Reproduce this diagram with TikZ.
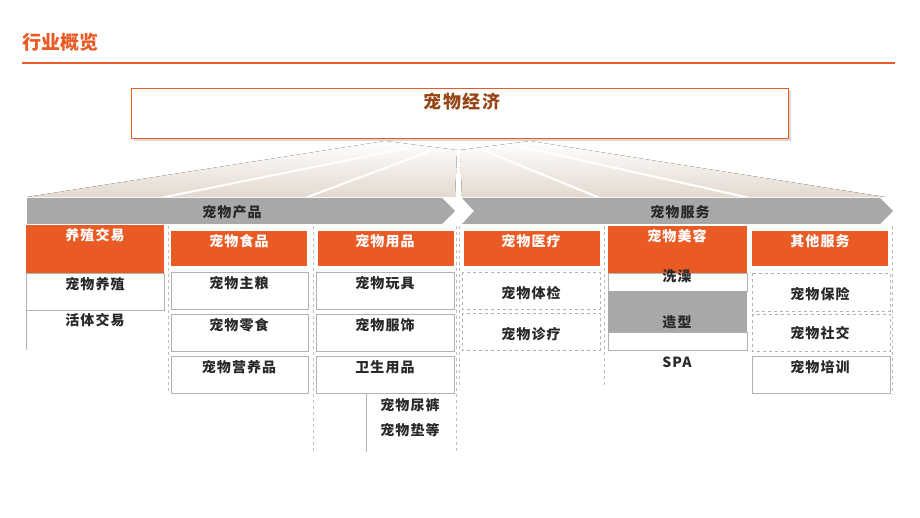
\documentclass[tikz,border=0pt]{standalone}
\usepackage{fontspec}
\setmainfont{Noto Sans CJK SC}
\newfontfamily\widecjk[LetterSpace=8]{Noto Sans CJK SC}
\usetikzlibrary{positioning, calc, shadows}
\definecolor{accent}{RGB}{234,90,36}
\definecolor{heading}{RGB}{150,70,20}
\definecolor{band}{RGB}{168,168,168}
\definecolor{ink}{RGB}{40,40,40}

\begin{document}
\begin{tikzpicture}[
    x=1pt, y=-1pt,
    hdr/.style={draw=none, fill=accent},
    item/.style={draw=gray!60, thin},
    ditem/.style={draw=gray!60, thin, dashed},
    lbl/.style={font=\widecjk\bfseries\fontsize{14}{16}\selectfont, text=ink, inner sep=0pt},
    wlbl/.style={font=\widecjk\bfseries\fontsize{14}{16}\selectfont, text=white, inner sep=0pt},
    guide/.style={draw=gray!50, thin, dashed},
    fan/.style={top color=white, bottom color=gray!45!brown!30, draw=none}
]
\useasboundingbox (0,0) rectangle (920,518);

% Title
\node[font=\bfseries\fontsize{19}{21}\selectfont, text=accent, anchor=west, inner sep=0pt] (title) at (22,42) {行业概览};
\draw[accent, line width=1.2pt] (22,63) -- (895,63);

% Top box
\node[draw=accent, line width=1.2pt, fill=white, drop shadow={opacity=0.3}, minimum width=657pt, minimum height=50pt, anchor=north west] (economy) at (131,88) {};
\node[font=\widecjk\bfseries\fontsize{18}{20}\selectfont, text=heading, inner sep=0pt] (economytext) at (462,102) {宠物经济};

% Fans
\fill[fan] (27,197) -- (385,141) -- (457,150) -- (455,197) -- cycle;
\draw[white, line width=2pt] (160,198) -- (408,148);
\draw[white, line width=2pt] (305,198) -- (430,151);
\fill[fan] (460,150) -- (530,141) -- (885,197) -- (462,197) -- cycle;
\draw[white, line width=2pt] (600,198) -- (485,151);
\draw[white, line width=2pt] (750,198) -- (522,147);

% Chevron bands
\fill[band] (27,198) -- (442,198) -- (455,211) -- (442,224) -- (27,224) -- cycle;
\fill[band] (462,198) -- (880,198) -- (893,211) -- (880,224) -- (462,224) -- (474,211) -- cycle;
\node[lbl] (products) at (232,212) {宠物产品};
\node[lbl] (services) at (680,212) {宠物服务};

% Guides
\draw[guide] (168,226) -- (168,392);
\draw[guide] (313,226) -- (313,452);
\draw[guide] (456,226) -- (456,452);
\draw[guide] (459,226) -- (459,385);
\draw[guide] (604,226) -- (604,385);
\draw[guide] (892,226) -- (892,395);

% Column 1
\fill[hdr] (26,225) rectangle (164,273);
\node[wlbl] (breeding) at (95,235) {养殖交易};
\draw[item] (26,273) rectangle (164,310);
\node[lbl] (breed) at (95,284) {宠物养殖};
\draw[item] (26,310) -- (26,350);
\node[lbl] (live) at (95,320) {活体交易};

% Column 2
\fill[hdr] (171,231) rectangle (307,266);
\node[wlbl] (food) at (239,241) {宠物食品};
\foreach \y/\t/\n in {272/宠物主粮/staple, 314/宠物零食/snack, 356/宠物营养品/nutrition}{
  \draw[item] (171,\y) rectangle (308,\y+37);
  \node[lbl] (\n) at (239,\y+11) {\t};
}

% Column 3
\fill[hdr] (318,231) rectangle (454,266);
\node[wlbl] (supplies) at (385,241) {宠物用品};
\foreach \y/\t/\n in {272/宠物玩具/toys, 314/宠物服饰/clothes, 356/卫生用品/hygiene}{
  \draw[item] (316,\y) rectangle (454,\y+37);
  \node[lbl] (\n) at (385,\y+11) {\t};
}
\draw[item] (366,393) -- (366,452);
\node[lbl] (diaper) at (410,405) {宠物尿裤};
\node[lbl] (pad) at (410,430) {宠物垫等};

% Column 4
\fill[hdr] (464,231) rectangle (600,266);
\node[wlbl] (medical) at (531,241) {宠物医疗};
\foreach \y/\t/\n in {272/宠物体检/checkup, 313/宠物诊疗/clinic}{
  \draw[ditem] (462,\y) rectangle (600,\y+37);
  \node[lbl] (\n) at (531,\y+21) {\t};
}

% Column 5
\fill[hdr] (608,226) rectangle (747,273);
\node[wlbl] (grooming) at (677,236) {宠物美容};
\draw[item] (608,273) rectangle (747,291);
\node[lbl] (bath) at (677,276) {洗澡};
\fill[band] (608,291) rectangle (747,332);
\node[lbl] (styling) at (677,322) {造型};
\draw[item] (608,332) rectangle (747,350);
\node[lbl] (spa) at (677,362) {SPA};

% Column 6
\fill[hdr] (752,231) rectangle (888,266);
\node[wlbl] (other) at (820,241) {其他服务};
\draw[ditem] (752,273) rectangle (890,311);
\node[lbl] (insurance) at (820,294) {宠物保险};
\draw[ditem] (752,314) rectangle (890,351);
\node[lbl] (social) at (820,333) {宠物社交};
\draw[item] (752,356) rectangle (890,393);
\node[lbl] (training) at (820,367) {宠物培训};
\end{tikzpicture}
\end{document}
